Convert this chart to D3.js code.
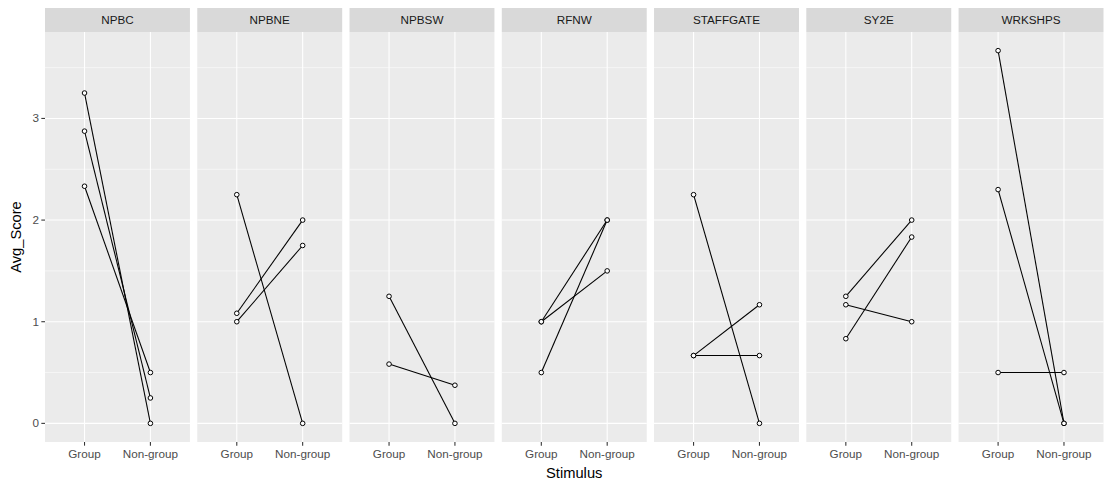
<!DOCTYPE html>
<html>
<head>
<meta charset="utf-8">
<script src="https://cdn.jsdelivr.net/npm/d3@7"></script>
<style>
  html, body { margin: 0; padding: 0; background: #ffffff; }
  svg { display: block; font-family: "Liberation Sans", Arial, sans-serif; }
</style>
</head>
<body>
<svg id="chart" width="1105" height="486"></svg>
<script>
// Facet panels, x categories and y ticks
const facets = ["NPBC", "NPBNE", "NPBSW", "RFNW", "STAFFGATE", "SY2E", "WRKSHPS"];
const stimuli = ["Group", "Non-group"];
const yTicks = [0, 1, 2, 3];
const yMinor = [0.5, 1.5, 2.5, 3.5];

// Average score per pair, Group value and Non-group value, one entry per facet
const groupScores = [
  [3.25, 2.875, 2.333],
  [2.25, 1.083, 1.0],
  [1.25, 0.583],
  [1.0, 1.0, 0.5],
  [2.25, 0.667, 0.667],
  [1.25, 1.167, 0.833],
  [3.667, 2.3, 0.5]
];
const nonGroupScores = [
  [0.0, 0.25, 0.5],
  [0.0, 2.0, 1.75],
  [0.0, 0.375],
  [2.0, 1.5, 2.0],
  [0.0, 1.167, 0.667],
  [2.0, 1.0, 1.833],
  [0.0, 0.0, 0.5]
];

const svg = d3.select("#chart");
const plotLeft = 45, plotRight = 1103.5;
const stripTop = 8, stripH = 24;
const panelTop = stripTop + stripH, panelBottom = 442;
const gap = 7.33;
const panelW = (plotRight - plotLeft - gap * (facets.length - 1)) / facets.length;

const allVals = groupScores.flat().concat(nonGroupScores.flat());
const yMax = d3.max(allVals), yMin = 0;
const ySpan = yMax - yMin;
const y = d3.scaleLinear()
  .domain([yMin - ySpan * 0.05, yMax + ySpan * 0.05])
  .range([panelBottom, panelTop]);

const facetX = d3.scaleBand().domain(facets)
  .range([plotLeft, plotRight]).paddingInner(gap / (panelW + gap)).paddingOuter(0);

const x = d3.scalePoint().domain(stimuli).range([0, panelW]).padding(0.6 / 0.5 * 0.5);
// discrete axis with 0.6 additive expansion on each side
const xPos = v => (stimuli.indexOf(v) + 1 - 0.4) / 2.2 * panelW;

facets.forEach((f, i) => {
  const g = svg.append("g").attr("transform", `translate(${facetX(f)},0)`);
  const w = facetX.bandwidth();

  // strip
  g.append("rect").attr("x", 0).attr("y", stripTop).attr("width", w).attr("height", stripH)
    .attr("fill", "#d9d9d9");
  g.append("text").attr("x", w / 2).attr("y", stripTop + stripH / 2 + 4)
    .attr("text-anchor", "middle").attr("font-size", "11.7px").attr("fill", "#1a1a1a").text(f);

  // panel background
  g.append("rect").attr("x", 0).attr("y", panelTop).attr("width", w).attr("height", panelBottom - panelTop)
    .attr("fill", "#ebebeb");

  // grid
  g.selectAll(".minor").data(yMinor).enter().append("line")
    .attr("x1", 0).attr("x2", w).attr("y1", d => y(d)).attr("y2", d => y(d))
    .attr("stroke", "#ffffff").attr("stroke-width", 0.53);
  g.selectAll(".major").data(yTicks).enter().append("line")
    .attr("x1", 0).attr("x2", w).attr("y1", d => y(d)).attr("y2", d => y(d))
    .attr("stroke", "#ffffff").attr("stroke-width", 1.07);
  g.selectAll(".vmajor").data(stimuli).enter().append("line")
    .attr("x1", d => xPos(d)).attr("x2", d => xPos(d)).attr("y1", panelTop).attr("y2", panelBottom)
    .attr("stroke", "#ffffff").attr("stroke-width", 1.07);

  // x ticks and labels
  stimuli.forEach(s => {
    g.append("line").attr("x1", xPos(s)).attr("x2", xPos(s))
      .attr("y1", panelBottom).attr("y2", panelBottom + 3.67)
      .attr("stroke", "#333333").attr("stroke-width", 1.07);
    g.append("text").attr("x", xPos(s)).attr("y", panelBottom + 16)
      .attr("text-anchor", "middle").attr("font-size", "11.7px").attr("fill", "#4d4d4d").text(s);
  });

  // paired lines
  const pairs = groupScores[i].map((gv, k) => [gv, nonGroupScores[i][k]]);
  g.selectAll(".pair").data(pairs).enter().append("line")
    .attr("x1", xPos("Group")).attr("y1", d => y(d[0]))
    .attr("x2", xPos("Non-group")).attr("y2", d => y(d[1]))
    .attr("stroke", "#000000").attr("stroke-width", 1.07);

  // points
  const pts = [];
  pairs.forEach(p => { pts.push([stimuli[0], p[0]]); pts.push([stimuli[1], p[1]]); });
  g.selectAll(".pt").data(pts).enter().append("circle")
    .attr("cx", d => xPos(d[0])).attr("cy", d => y(d[1])).attr("r", 2.3)
    .attr("fill", "#ffffff").attr("stroke", "#000000").attr("stroke-width", 1);
});

// y axis (left of first panel)
const ya = svg.append("g");
yTicks.forEach(t => {
  ya.append("line").attr("x1", plotLeft - 3.67).attr("x2", plotLeft)
    .attr("y1", y(t)).attr("y2", y(t)).attr("stroke", "#333333").attr("stroke-width", 1.07);
  ya.append("text").attr("x", plotLeft - 6).attr("y", y(t) + 4)
    .attr("text-anchor", "end").attr("font-size", "11.7px").attr("fill", "#4d4d4d").text(t);
});

// axis titles
svg.append("text").attr("x", (plotLeft + plotRight) / 2).attr("y", 478)
  .attr("text-anchor", "middle").attr("font-size", "14.7px").attr("fill", "#000000").text("Stimulus");
svg.append("text").attr("transform", `translate(21,${(panelTop + panelBottom) / 2}) rotate(-90)`)
  .attr("text-anchor", "middle").attr("font-size", "14.7px").attr("fill", "#000000").text("Avg_Score");
</script>
</body>
</html>
